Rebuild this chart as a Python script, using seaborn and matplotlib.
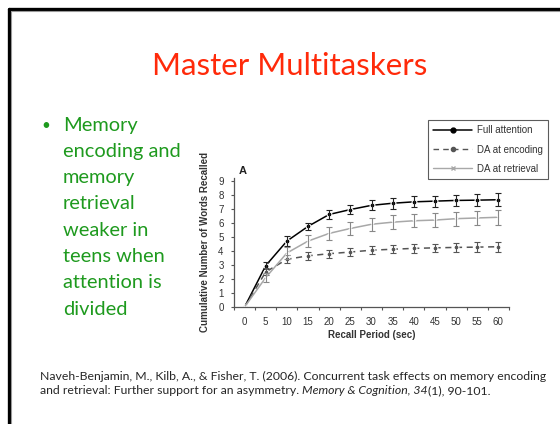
import matplotlib
matplotlib.use('Agg')
import matplotlib.pyplot as plt
from matplotlib.lines import Line2D
import pandas as pd
import seaborn as sns

#  Data (Naveh-Benjamin et al., 2006, panel A)
recall_period = [0, 5, 10, 15, 20, 25, 30, 35, 40, 45, 50, 55, 60]
full_attention = [0, 2.95, 4.7, 5.75, 6.6, 6.95, 7.25, 7.4, 7.5, 7.55, 7.6, 7.62, 7.65]
full_err = [0, 0.25, 0.35, 0.25, 0.35, 0.35, 0.35, 0.4, 0.4, 0.4, 0.4, 0.42, 0.45]
da_encoding = [0, 2.5, 3.4, 3.65, 3.8, 3.92, 4.05, 4.12, 4.18, 4.22, 4.25, 4.27, 4.3]
enc_err = [0, 0.25, 0.28, 0.28, 0.28, 0.28, 0.28, 0.3, 0.3, 0.3, 0.32, 0.35, 0.36]
da_retrieval = [0, 2.1, 3.85, 4.7, 5.25, 5.6, 5.9, 6.05, 6.15, 6.2, 6.3, 6.35, 6.4]
ret_err = [0, 0.3, 0.45, 0.4, 0.45, 0.45, 0.48, 0.48, 0.48, 0.5, 0.5, 0.5, 0.53]

conditions = ['Full attention', 'DA at encoding', 'DA at retrieval']
y_ticks = list(range(0, 10))

title = 'Master Multitaskers'
bullet_lines = ['Memory', 'encoding and', 'memory', 'retrieval', 'weaker in',
                'teens when', 'attention is', 'divided']

#  Long-form table for seaborn
df = pd.DataFrame({
    'Recall Period (sec)': recall_period * 3,
    'Words': full_attention + da_encoding + da_retrieval,
    'err': full_err + enc_err + ret_err,
    'Condition': [c for c in conditions for _ in recall_period],
})

sns.set_style('white')
plt.rcParams['font.family'] = ['Liberation Sans', 'DejaVu Sans']

W, H = 560, 424
fig = plt.figure(figsize=(W / 100, H / 100), dpi=100)
fig.patch.set_facecolor('white')

#  Slide border (left and top)
fig.add_artist(Line2D([9 / W, 9 / W], [0, 1 - 9 / H], color='black', lw=2.4,
                      transform=fig.transFigure))
fig.add_artist(Line2D([9 / W, 1], [1 - 9 / H, 1 - 9 / H], color='black', lw=2.4,
                      transform=fig.transFigure))
fig.add_artist(Line2D([11 / W, 11 / W], [0, 1 - 11 / H], color='#999999', lw=0.8,
                      transform=fig.transFigure))
fig.add_artist(Line2D([11 / W, 1], [1 - 11 / H, 1 - 11 / H], color='#999999', lw=0.8,
                      transform=fig.transFigure))

#  Title
fig.text(290 / W, 1 - 66 / H, title, ha='center', va='center', color='#FF2A0A',
         fontsize=22.5, family=['Lato', 'DejaVu Sans'])

#  Bullet text
fig.text(46 / W, 1 - 126 / H, '•', ha='center', va='center', color='#1E9A1E',
         fontsize=11, family=['Lato', 'DejaVu Sans'])
for i, line in enumerate(bullet_lines):
    fig.text(63 / W, 1 - (125 + i * 26.3) / H, line, ha='left', va='center',
             color='#1E9A1E', fontsize=14.4, family=['Lato', 'DejaVu Sans'])

#  Chart
ax = fig.add_axes([234 / W, 1 - 307 / H, 275 / W, 129 / H])
colors = {'Full attention': 'black', 'DA at encoding': '#555555',
          'DA at retrieval': '#a8a8a8'}
markers = {'Full attention': 'o', 'DA at encoding': 'o', 'DA at retrieval': 'x'}
err_colors = {'Full attention': '#222222', 'DA at encoding': '#555555',
              'DA at retrieval': '#888888'}

for cond in conditions:
    sub = df[df['Condition'] == cond]
    line_kw = dict(color=colors[cond], marker=markers[cond], markersize=3.5,
                   markeredgewidth=0.8, linewidth=1.1)
    if cond == 'DA at encoding':
        line_kw['dashes'] = (4, 3)
    sns.lineplot(data=sub, x='Recall Period (sec)', y='Words', ax=ax, **line_kw)
    s2 = sub[sub['Recall Period (sec)'] > 0]
    ax.errorbar(s2['Recall Period (sec)'], s2['Words'], yerr=s2['err'], fmt='none',
                ecolor=err_colors[cond], elinewidth=0.8, capsize=2.5, capthick=0.8)

ax.set_xlim(-2.5, 62.5)
ax.set_ylim(0, 9.2)
ax.set_yticks(y_ticks)
ax.set_xticks(recall_period)
ax.set_xticks([x + 2.5 for x in [-5] + recall_period], minor=True)
ax.tick_params(axis='x', which='major', length=0, pad=7, labelsize=7, labelcolor='#333333')
ax.tick_params(axis='x', which='minor', length=2.5, width=0.8, color='#555555',
               direction='out', bottom=True)
ax.tick_params(axis='y', which='major', length=2.5, width=0.8, color='#555555',
               direction='out', left=True, pad=5, labelsize=7, labelcolor='#333333')
for side in ['top', 'right']:
    ax.spines[side].set_visible(False)
for side in ['left', 'bottom']:
    ax.spines[side].set_color('#555555')
    ax.spines[side].set_linewidth(0.9)
ax.set_xlabel('Recall Period (sec)', fontsize=7, fontweight='bold', color='#333333',
              labelpad=2)
ax.set_ylabel('Cumulative Number of Words Recalled', fontsize=7, fontweight='bold',
              color='#333333', labelpad=6)
ax.text(243 / W, 1 - 171 / H, 'A', transform=fig.transFigure, fontsize=8,
        fontweight='bold', ha='center', va='center', color='#222222')

#  Legend
handles = [
    Line2D([], [], color='black', lw=1.1, marker='o', markersize=3.5),
    Line2D([], [], color='#555555', lw=1.0, ls=(0, (4, 3)), marker='o', markersize=3),
    Line2D([], [], color='#a8a8a8', lw=1.0, marker='x', markersize=3.5),
]
leg = fig.legend(handles, conditions, loc='upper left',
                 bbox_to_anchor=(428 / W, 1 - 120 / H), fontsize=7, frameon=True,
                 fancybox=False, edgecolor='#333333', handlelength=4.0,
                 borderpad=0.55, labelspacing=0.95, handletextpad=0.5,
                 borderaxespad=0)
leg.get_frame().set_linewidth(0.8)
for t in leg.get_texts():
    t.set_color('#333333')

#  Citation with italic journal name
cite_font = ['Lato', 'DejaVu Sans']
fig.text(40 / W, 1 - 380 / H,
         'Naveh-Benjamin, M., Kilb, A., & Fisher, T. (2006). Concurrent task effects on '
         'memory encoding', ha='left', va='baseline', fontsize=8.8, family=cite_font)
pieces = [('and retrieval: Further support for an asymmetry. ', 'normal'),
          ('Memory & Cognition, 34', 'italic'),
          ('(1), 90-101.', 'normal')]
renderer = fig.canvas.get_renderer()
x = 40 / W
for text, style in pieces:
    t = fig.text(x, 1 - 394 / H, text, ha='left', va='baseline', fontsize=8.8,
                 style=style, family=cite_font)
    bb = t.get_window_extent(renderer=renderer)
    x = bb.x1 / W

plt.savefig('out.png', dpi=100, facecolor='white')
